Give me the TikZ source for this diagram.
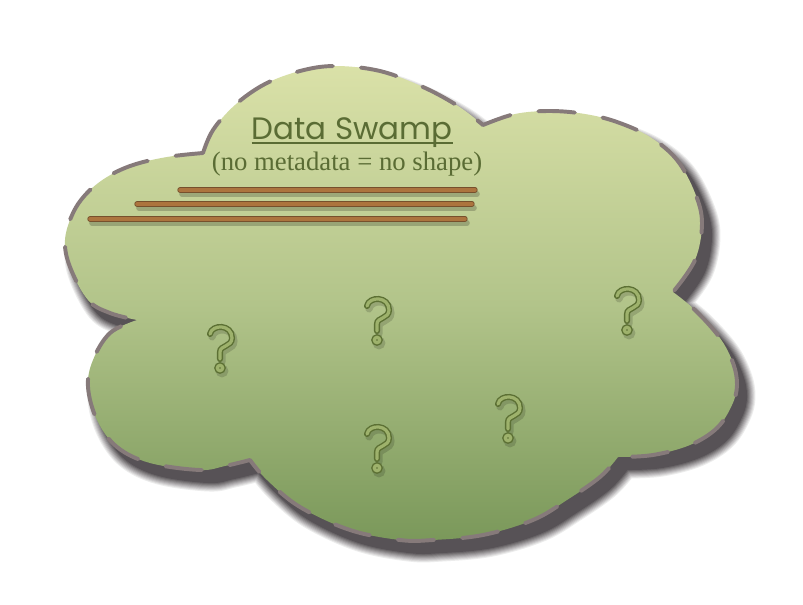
\documentclass[tikz,border=0pt]{standalone}
\usepackage{fontspec}
\usepackage{tikz}
\newfontfamily\swtitlefont{Poppins}
\newfontfamily\swsubfont{Liberation Serif}
\definecolor{swtop}{RGB}{218,225,168}
\definecolor{swmid}{RGB}{178,196,138}
\definecolor{swbottom}{RGB}{122,152,90}
\definecolor{swborder}{RGB}{134,122,122}
\definecolor{swshadow}{RGB}{48,42,46}
\definecolor{swtext}{RGB}{90,108,52}
\definecolor{swbrown}{RGB}{172,116,62}
\definecolor{swdarkbrown}{RGB}{118,80,44}
\definecolor{swqdark}{RGB}{92,112,52}
\definecolor{swqlight}{RGB}{158,178,108}
\tikzstyle{cloud border} = [draw=swborder, line width=2.8pt, dash pattern=on 26pt off 20pt, line cap=round, line join=round]
\tikzstyle{cloud shade} = [top color=swtop, bottom color=swbottom, middle color=swmid]
\tikzstyle{rule} = [line width=3.8pt, swdarkbrown, line cap=round]
\tikzstyle{rule fill} = [line width=2.5pt, swbrown, line cap=round]
\tikzstyle{rule shadow} = [line width=4pt, black, opacity=.2, line cap=round]
\tikzstyle{q outer} = [line width=4.3pt, swqdark, line cap=round]
\tikzstyle{q inner} = [line width=2.3pt, swqlight, line cap=round]
\tikzstyle{q shadow} = [line width=5pt, black, opacity=.15, line cap=round]
% outline of the swamp, in pixels
\newcommand{\swamppath}{plot[smooth,tension=.6] coordinates {(203,153) (213,130) (235,105) (265,84) (300,71) (335,66) (380,71) (423,87) (458,106) (483,125)}
  -- plot[smooth,tension=.6] coordinates {(483,125) (515,114) (550,111) (585,114) (617,122) (650,137) (677,160) (695,193) (702,223) (695,260) (673,292)}
  -- plot[smooth,tension=.6] coordinates {(673,292) (695,310) (720,338) (733,363) (737,385) (732,405) (717,428) (690,445) (653,455) (618,457)}
  -- plot[smooth,tension=.6] coordinates {(618,457) (600,477) (567,500) (533,520) (483,535) (433,540) (400,540) (350,530) (300,507) (267,480) (250,460)}
  -- plot[smooth,tension=.6] coordinates {(250,460) (225,466) (200,470) (150,463) (117,447) (97,420) (88,387) (93,360) (110,333) (137,320)}
  -- plot[smooth,tension=.6] coordinates {(137,320) (110,313) (88,300) (70,267) (65,240) (73,213) (87,193) (107,177) (133,165) (167,157) (203,153)} -- cycle}
\newcommand{\qglyph}{(-10,-16) .. controls (-8,-26) and (12,-26) .. (12,-12) .. controls (12,-3) and (0,-5) .. (0,2) -- (0,9) (0,18) circle[radius=1.9pt]}
\tikzset{
  qmark/.pic={
    \draw[q shadow, shift={(2,3)}] \qglyph;
    \draw[q outer] \qglyph;
    \draw[q inner] \qglyph;
  }
}

\begin{document}
\begin{tikzpicture}[x=0.025cm, y=-0.025cm]
\useasboundingbox (0,0) rectangle (803,605);
\fill[white] (0,0) rectangle (803,605);
% soft shadow
\begin{scope}[shift={(9,12)}]
\foreach \i in {1,...,9} {
  \pgfmathsetmacro\lw{(10-\i)*1.5}
  \pgfmathsetmacro\shd{\i*9}
  \filldraw[swshadow!\shd, line width=\lw pt, line join=round] \swamppath;
}
\end{scope}
\shade[cloud shade] \swamppath;
\draw[cloud border] \swamppath;

\node (title) [anchor=base, inner sep=0pt, text=swtext, font=\swtitlefont\fontsize{22}{26}\selectfont] at (352,139) {Data Swamp};
\draw[swtext, line width=1.4pt] ([yshift=-2.5pt]title.base west) -- ([yshift=-2.5pt]title.base east);
\node (subtitle) [anchor=base, inner sep=0pt, text=swtext, font=\swsubfont\fontsize{19}{22}\selectfont] at (347,170) {(no metadata = no shape)};

\foreach \xa/\xb/\y in {180/475/190, 137/472/204, 90/465/219} {
  \draw[rule shadow] (\xa+2,\y+4) -- (\xb+2,\y+4);
  \draw[rule] (\xa,\y) -- (\xb,\y);
  \draw[rule fill] (\xa,\y) -- (\xb,\y);
}

\pic at (220,350) {qmark};
\pic at (377,322) {qmark};
\pic at (627,312) {qmark};
\pic at (377,450) {qmark};
\pic at (508,420) {qmark};
\end{tikzpicture}
\end{document}
